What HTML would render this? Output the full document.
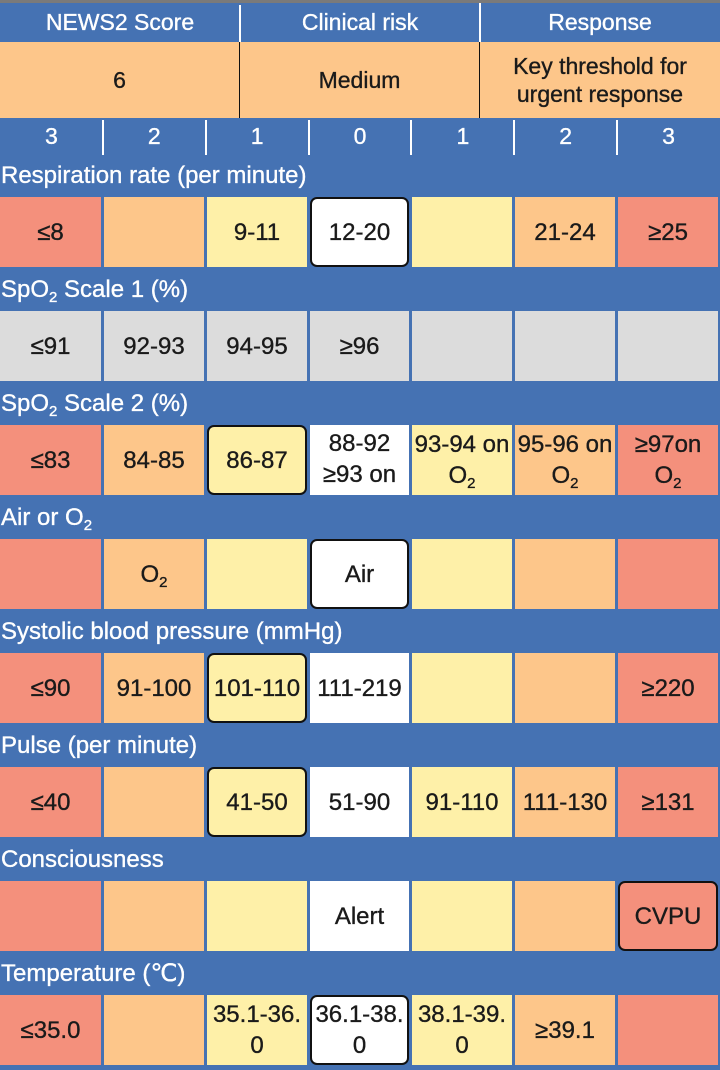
<!DOCTYPE html>
<html><head><meta charset="utf-8">
<style>
*{margin:0;padding:0;box-sizing:border-box}
body{width:720px;height:1070px;background:#4572b3;font-family:"Liberation Sans","DejaVu Sans",sans-serif;position:relative;overflow:hidden;-webkit-text-stroke:0.35px currentColor}
.a{position:absolute}
.top{left:0;top:0;width:720px;height:3px;background:#7a7a7a}
.h{color:#fff;font-size:23px;text-align:center;line-height:39px;top:3px;height:39px}
.o{background:#fdc68a;top:42px;height:76px;color:#1a1a1a;font-size:23px;display:flex;align-items:center;justify-content:center;text-align:center;line-height:28px}
.s{color:#fff;font-size:23px;text-align:center;top:118px;height:37px;line-height:37px}
.vl{width:2px;background:#fff}
.sec{color:#fff;font-size:24px;left:1px;height:30px;line-height:30px}
.c{height:70px;display:flex;align-items:center;justify-content:center;text-align:center;color:#1a1a1a;font-size:24px;line-height:31px;overflow:hidden;white-space:nowrap}
.c.b{border:2.5px solid #111;border-radius:7px}
sub{font-size:15px;vertical-align:-5px;line-height:0}
</style></head><body>
<div class="a top"></div>
<div class="a h" style="left:0;width:240px">NEWS2 Score</div>
<div class="a h" style="left:240px;width:240px">Clinical risk</div>
<div class="a h" style="left:480px;width:240px">Response</div>
<div class="a vl" style="left:239px;top:5px;height:37px"></div>
<div class="a vl" style="left:479px;top:3px;height:39px"></div>
<div class="a o" style="left:0;width:239px">6</div>
<div class="a o" style="left:240px;width:239px">Medium</div>
<div class="a o" style="left:480px;width:240px">Key threshold for<br>urgent response</div>
<div class="a" style="left:239px;top:42px;width:1px;height:76px;background:#111"></div>
<div class="a" style="left:479px;top:42px;width:1px;height:76px;background:#111"></div>
<div id="root"></div>
<script>
const scores=["3","2","1","0","1","2","3"];
const sections=["Respiration rate (per minute)","SpO<sub>2</sub> Scale 1 (%)","SpO<sub>2</sub> Scale 2 (%)","Air or O<sub>2</sub>","Systolic blood pressure (mmHg)","Pulse (per minute)","Consciousness","Temperature (℃)"];
const values=[
["≤8","","9-11","12-20","","21-24","≥25"],
["≤91","92-93","94-95","≥96","","",""],
["≤83","84-85","86-87","88-92<br>≥93 on<br>air","93-94 on<br>O<sub>2</sub>","95-96 on<br>O<sub>2</sub>","≥97on<br>O<sub>2</sub>"],
["","O<sub>2</sub>","","Air","","",""],
["≤90","91-100","101-110","111-219","","","≥220"],
["≤40","","41-50","51-90","91-110","111-130","≥131"],
["","","","Alert","","","CVPU"],
["≤35.0","","35.1-36.<br>0","36.1-38.<br>0","38.1-39.<br>0","≥39.1",""]];
const selected=[3,-1,2,3,2,2,6,3];
const colColors=["#f4907c","#fdc68a","#fef0a8","#ffffff","#fef0a8","#fdc68a","#f4907c"];
const root=document.getElementById('root');
const cw=720/7;
scores.forEach((s,i)=>{
  const d=document.createElement('div');d.className='a s';
  d.style.left=(i*cw)+'px';d.style.width=cw+'px';d.textContent=s;
  
  
  root.appendChild(d);
  if(i>0){const v=document.createElement('div');v.className='a vl';
  v.style.left=(i*cw-1)+'px';v.style.top='120px';v.style.height='35px';
  
  
  root.appendChild(v);}
});
sections.forEach((t,r)=>{
  const y=197+114*r;
  const h=document.createElement('div');h.className='a sec';h.style.top=(y-36)+'px';h.innerHTML=t;
  
  
  root.appendChild(h);
  values[r].forEach((v,i)=>{
    const c=document.createElement('div');c.className='a c'+(selected[r]===i?' b':'');
    const x0=Math.round(i*cw)+(i>0?1:0), x1=Math.round((i+1)*cw)-2;
    c.style.left=x0+'px';c.style.width=(x1-x0)+'px';c.style.top=y+'px';
    c.style.background=r===1?'#dcdcdc':colColors[i];
    if(r===2&&i===3){c.style.alignItems='flex-start';c.style.paddingTop='3px';}
    
    
    const sp=document.createElement('span');
    sp.innerHTML=v;
    
    
    c.appendChild(sp);
    root.appendChild(c);
  });
});
</script>
</body></html>
